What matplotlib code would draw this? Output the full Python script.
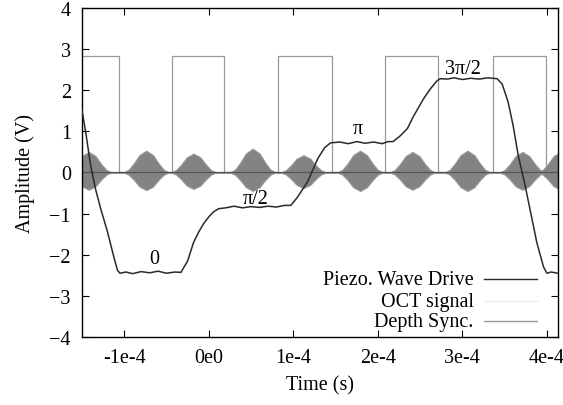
import numpy as np
import matplotlib
matplotlib.use('Agg')
import matplotlib.pyplot as plt

plt.rcParams['font.family'] = ['Liberation Serif', 'DejaVu Serif']
plt.rcParams['font.size'] = 14.5

# time values are in units of 1e-4 s
x_min, x_max = -1.5, 4.13

# Piezo. Wave Drive (staircase)
piezo_t = [-1.5, -1.45, -1.40, -1.34, -1.28, -1.20, -1.12, -1.08, -1.05,
           -0.98, -0.90, -0.80, -0.70, -0.60, -0.50, -0.40, -0.33,
           -0.25, -0.18, -0.12, -0.06, 0.0, 0.06, 0.12,
           0.20, 0.30, 0.40, 0.50, 0.60, 0.70, 0.80, 0.90, 0.97,
           1.05, 1.17, 1.29, 1.37, 1.44,
           1.55, 1.65, 1.75, 1.85, 1.95, 2.05, 2.12, 2.18,
           2.27, 2.35, 2.42, 2.54, 2.62, 2.70, 2.74,
           2.82, 2.90, 3.00, 3.10, 3.20, 3.30, 3.41,
           3.47, 3.54, 3.60, 3.66, 3.74, 3.78, 3.88, 3.96, 4.00,
           4.05, 4.13]
piezo_v = [1.52, 0.9, 0.2, -0.4, -0.87, -1.43, -2.08, -2.38, -2.45,
           -2.42, -2.46, -2.41, -2.44, -2.40, -2.45, -2.42, -2.43,
           -2.15, -1.70, -1.45, -1.24, -1.08, -0.95, -0.88,
           -0.86, -0.82, -0.86, -0.83, -0.85, -0.82, -0.84, -0.80, -0.80,
           -0.60, -0.22, 0.34, 0.60, 0.72,
           0.74, 0.70, 0.75, 0.71, 0.74, 0.70, 0.75, 0.75,
           0.90, 1.07, 1.36, 1.79, 2.03, 2.23, 2.28,
           2.27, 2.30, 2.26, 2.29, 2.27, 2.30, 2.28,
           2.15, 1.72, 1.14, 0.42, -0.30, -0.70, -1.70, -2.30, -2.45,
           -2.42, -2.45]

# Depth Sync. (square wave)
sync_t = [-1.5, -1.063, -0.437, 0.177, 0.82, 1.452, 2.09, 2.716, 3.365, 3.99, 4.13]
sync_v = [2.83, 0.0, 2.83, 0.0, 2.83, 0.0, 2.83, 0.0, 2.83, 0.0, 0.0]

# OCT signal bursts: centres and envelope peaks
burst_c = [-1.42, -0.74, -0.18, 0.52, 1.12, 1.79, 2.41, 3.06, 3.71, 4.16]
burst_top = [0.50, 0.53, 0.46, 0.58, 0.42, 0.53, 0.50, 0.53, 0.50, 0.50]
burst_bot = [-0.42, -0.43, -0.40, -0.45, -0.38, -0.45, -0.42, -0.45, -0.42, -0.42]
env_dt = [-0.27, -0.21, -0.15, -0.08, 0.0, 0.08, 0.15, 0.21, 0.27]
env_frac = [0.0, 0.12, 0.40, 0.80, 1.0, 0.80, 0.40, 0.12, 0.0]

x_ticks = [-1, 0, 1, 2, 3, 4]
x_ticklabels = ['-1e-4', '0e0', '1e-4', '2e-4', '3e-4', '4e-4']
y_ticks = [-4, -3, -2, -1, 0, 1, 2, 3, 4]

phase_labels = ['0', 'π/2', 'π', '3π/2']
phase_t = [-0.65, 0.55, 1.76, 3.01]
phase_v = [-2.1, -0.63, 1.07, 2.52]

fig = plt.figure(figsize=(5.63, 4.06), dpi=100)
ax = fig.add_axes([0.1456, 0.1675, 0.8454, 0.8105])

scale = 1e-4
# sync square wave
ax.step(np.array(sync_t) * scale, sync_v, where='post', color='#9a9a9a', lw=0.9, zorder=1)

# oct bursts
oct_x = [x_min]
oct_hi = [0.0]
oct_lo = [0.0]
for c, a, b in zip(burst_c, burst_top, burst_bot):
    for d, f in zip(env_dt, env_frac):
        oct_x.append(c + d)
        oct_hi.append(a * f)
        oct_lo.append(b * f)
oct_x.append(x_max + 0.5)
oct_hi.append(0.0)
oct_lo.append(0.0)
oct_x = np.array(oct_x) * scale
ax.fill_between(oct_x, oct_lo, oct_hi, facecolor='#838383', edgecolor='#9a9a9a', lw=0.8, zorder=2)
ax.plot(oct_x, np.zeros(len(oct_x)), color='#555555', lw=0.9, zorder=2)

# piezo drive
ax.plot(np.array(piezo_t) * scale, piezo_v, color='#2a2a2a', lw=1.1, zorder=3)

for lab, t, v in zip(phase_labels, phase_t, phase_v):
    ax.text(t * scale, v, lab, ha='center', va='center', fontsize=14.5)

ax.set_xlim(x_min * scale, x_max * scale)
ax.set_ylim(-4, 4)
ax.set_xticks(np.array(x_ticks) * scale)
ax.set_xticklabels(x_ticklabels)
ax.set_yticks(y_ticks)
ax.tick_params(direction='in', top=True, right=True, length=5, width=0.8, pad=8)
ax.set_xlabel('Time (s)', labelpad=6)
ax.set_ylabel('Amplitude (V)', labelpad=10)
for s in ax.spines.values():
    s.set_linewidth(1.0)

# gnuplot style key
key_labels = ['Piezo. Wave Drive', 'OCT signal', 'Depth Sync.']
key_colors = ['#2a2a2a', '#ededed', '#9a9a9a']
key_y = [0.175, 0.108, 0.048]
for lab, col, ky in zip(key_labels, key_colors, key_y):
    ax.text(0.823, ky, lab, transform=ax.transAxes, ha='right', va='center')
    ax.plot([0.845, 0.956], [ky, ky], transform=ax.transAxes, color=col, lw=1.0)

fig.savefig('out.png', dpi=100)
